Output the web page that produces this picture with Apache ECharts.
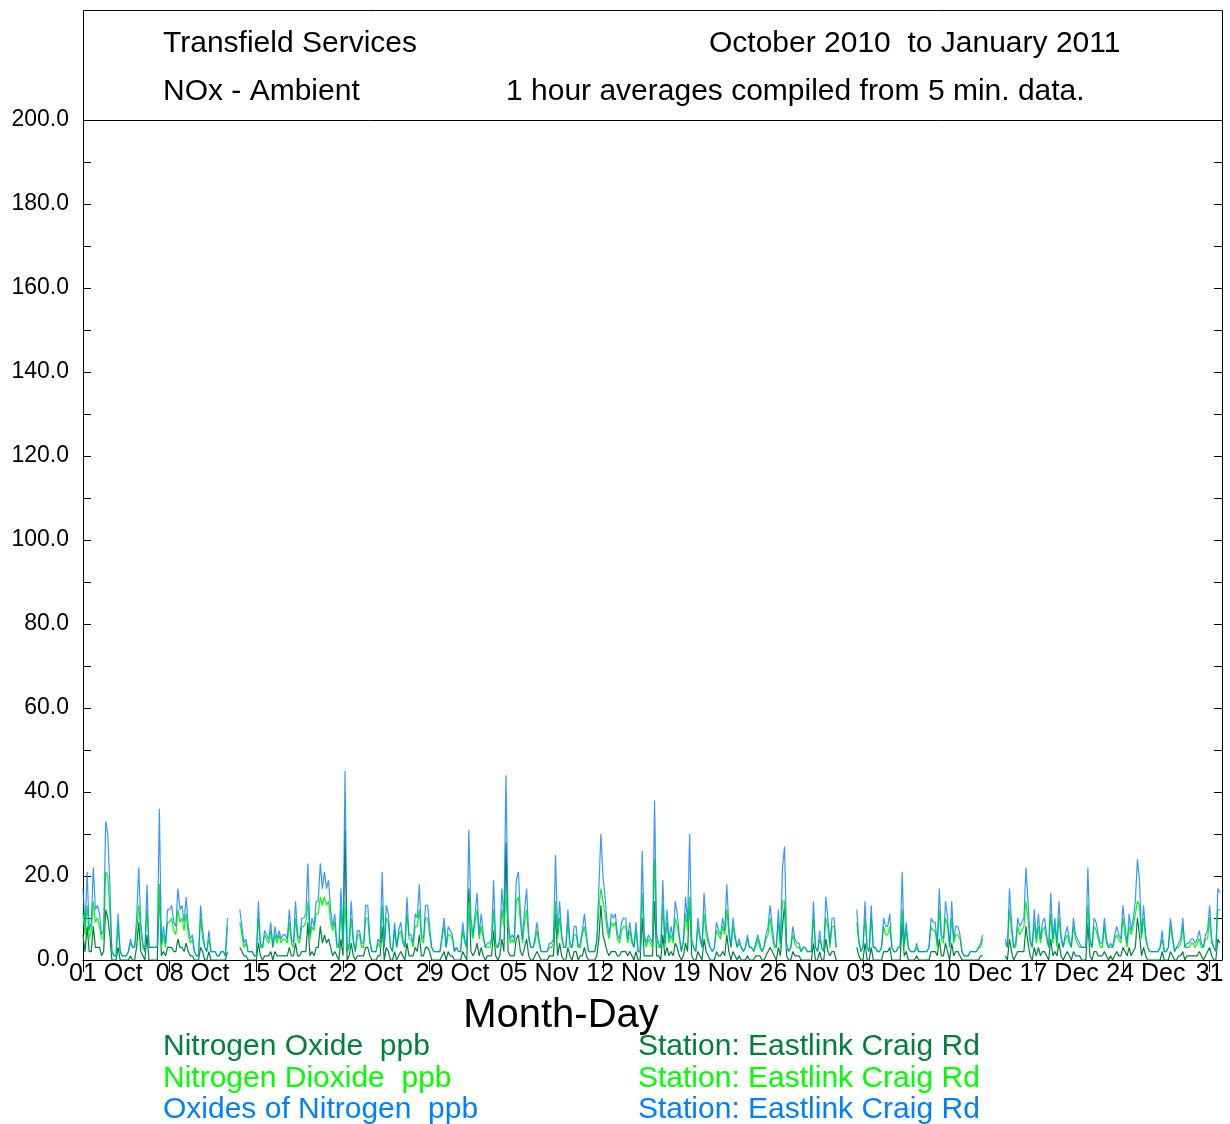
<!DOCTYPE html>
<html>
<head>
<meta charset="utf-8">
<script src="https://cdn.jsdelivr.net/npm/echarts@6/dist/echarts.min.js"></script>
<style>
  html, body { margin: 0; padding: 0; background: #ffffff; }
  #chart { width: 1230px; height: 1124px; }
</style>
</head>
<body>
<div id="chart"></div>
<script>
// Readings start 01 Oct 2010 00:00, one value every 4 hours (six per day, one row per day).
const stepHours = 4;
const tickLabels = ['01 Oct', '08 Oct', '15 Oct', '22 Oct', '29 Oct', '05 Nov', '12 Nov',
  '19 Nov', '26 Nov', '03 Dec', '10 Dec', '17 Dec', '24 Dec', '31'];

// Oxides of Nitrogen (NOx), ppb
const noxValues = [
  17, 8, 21, 7, 9, 22,
  12, 13, 11, 6, 7, 33,
  30, 18, 2, 1, 1, 11,
  2, 1, 1, 1, 2, 5,
  3, 3, 10, 22, 9, 4,
  2, 18, 3, 3, 3, 3,
  3, 36, 4, 8, 4, 12,
  12, 13, 9, 8, 17, 12,
  13, 9, 15, 8, 5, 6,
  2, 1, 1, 13, 7, 3,
  2, 7, 2, 2, 2, 1,
  1, 2, 2, 1, 10, null,
  null, null, null, null, 12, 8,
  4, 5, 2, 2, 2, 1,
  1, 14, 4, 3, 7, 6,
  5, 9, 3, 8, 5, 7,
  5, 6, 6, 5, 12, 5,
  4, 14, 6, 5, 10, 10,
  11, 23, 6, 10, 8, 14,
  14, 23, 17, 21, 17, 19,
  12, 8, 11, 4, 3, 17,
  4, 45, 2, 4, 14, 5,
  2, 7, 7, 4, 4, 13,
  13, 5, 2, 2, 2, 5,
  4, 21, 3, 13, 11, 3,
  2, 9, 3, 7, 9, 5,
  3, 15, 6, 6, 4, 11,
  10, 18, 6, 5, 13, 13,
  8, 3, 2, 2, 2, 2,
  6, 10, 3, 8, 7, 6,
  2, 3, 2, 2, 9, 5,
  3, 31, 10, 6, 11, 16,
  6, 11, 6, 3, 4, 4,
  5, 19, 4, 3, 5, 17,
  10, 44, 10, 5, 6, 5,
  19, 21, 11, 5, 12, 17,
  6, 3, 3, 5, 9, 5,
  2, 2, 2, 2, 4, 4,
  5, 25, 6, 14, 6, 3,
  3, 12, 4, 3, 8, 8,
  3, 4, 7, 11, 6, 2,
  2, 2, 2, 5, 17, 30,
  20, 15, 9, 6, 11, 10,
  11, 6, 5, 9, 10, 10,
  5, 9, 5, 3, 9, 2,
  2, 26, 6, 4, 6, 5,
  4, 38, 6, 4, 3, 19,
  4, 12, 5, 8, 5, 14,
  11, 6, 2, 5, 15, 9,
  30, 5, 3, 2, 10, 6,
  3, 16, 8, 5, 3, 2,
  3, 9, 7, 6, 10, 7,
  18, 8, 3, 10, 6, 3,
  5, 3, 2, 3, 6, 3,
  3, 2, 4, 6, 4, 2,
  3, 6, 8, 13, 8, 4,
  3, 12, 4, 22, 27, 4,
  2, 3, 8, 5, 4, 4,
  2, 3, 3, 2, 2, 2,
  14, 3, 2, 7, 3, 2,
  15, 10, 4, 10, 10, 3,
  null, null, null, null, null, null,
  null, null, null, 12, 5, 2,
  3, 14, 3, 2, 13, 3,
  3, 2, 2, 3, 10, 8,
  8, 11, 3, 2, 2, 3,
  3, 21, 4, 9, 3, 2,
  2, 2, 4, 2, 2, 2,
  2, 2, 3, 10, 9, 9,
  4, 17, 6, 5, 14, 10,
  3, 14, 5, 8, 8, 6,
  2, 1, 1, 1, 2, 2,
  2, 2, 3, 4, 6, null,
  null, null, null, null, null, null,
  null, null, null, 5, 3, 17,
  9, 3, 4, 10, 8, 9,
  10, 22, 14, 5, 3, 12,
  5, 11, 5, 9, 10, 6,
  3, 16, 5, 10, 4, 14,
  6, 3, 6, 8, 5, 3,
  10, 6, 5, 4, 3, 3,
  3, 22, 5, 3, 10, 9,
  6, 4, 4, 10, 5, 3,
  4, 3, 6, 8, 6, 5,
  13, 8, 4, 11, 7, 10,
  14, 24, 19, 6, 13, 6,
  3, 2, 2, 2, 2, 2,
  3, 7, 2, 2, 3, 10,
  6, 2, 3, 4, 5, 10,
  3, 4, 4, 5, 5, 4,
  5, 7, 4, 3, 6, 7,
  13, 5, 3, 2, 17, 16
];

// Nitrogen Dioxide (NO2), ppb
const no2Values = [
  11, 6, 13, 5, 7, 14,
  9, 10, 8, 5, 5, 21,
  20, 12, 2, 1, 1, 8,
  2, 1, 1, 1, 2, 4,
  3, 3, 7, 13, 7, 3,
  2, 12, 3, 3, 3, 3,
  3, 18, 3, 6, 3, 9,
  9, 10, 7, 6, 12, 9,
  10, 7, 11, 6, 4, 5,
  2, 1, 1, 10, 5, 3,
  2, 5, 2, 2, 2, 1,
  1, 2, 2, 1, 8, null,
  null, null, null, null, 9, 6,
  3, 4, 2, 2, 2, 1,
  1, 10, 3, 3, 6, 5,
  4, 7, 3, 6, 4, 6,
  4, 5, 5, 4, 9, 4,
  3, 10, 5, 4, 8, 8,
  9, 14, 5, 8, 7, 11,
  11, 15, 13, 15, 13, 14,
  9, 7, 9, 3, 3, 12,
  3, 14, 2, 3, 10, 4,
  2, 6, 6, 3, 3, 10,
  10, 4, 2, 2, 2, 4,
  3, 13, 3, 10, 9, 3,
  2, 7, 3, 6, 7, 4,
  3, 11, 5, 5, 3, 8,
  8, 12, 5, 4, 10, 10,
  6, 3, 2, 2, 2, 2,
  5, 8, 3, 6, 6, 5,
  2, 3, 2, 2, 7, 4,
  3, 14, 8, 5, 9, 12,
  5, 8, 5, 3, 3, 3,
  4, 12, 3, 3, 4, 12,
  8, 16, 8, 4, 5, 4,
  14, 15, 9, 4, 9, 12,
  5, 3, 3, 4, 7, 4,
  2, 2, 2, 2, 3, 3,
  4, 14, 5, 10, 5, 3,
  3, 9, 3, 3, 6, 6,
  3, 3, 6, 8, 5, 2,
  2, 2, 2, 4, 12, 17,
  14, 11, 7, 5, 9, 8,
  9, 5, 4, 7, 8, 8,
  4, 7, 4, 3, 7, 2,
  2, 16, 5, 3, 5, 4,
  3, 24, 5, 3, 3, 13,
  3, 9, 4, 6, 4, 10,
  8, 5, 2, 4, 11, 7,
  15, 4, 3, 2, 8, 5,
  3, 11, 6, 4, 3, 2,
  3, 7, 6, 5, 8, 6,
  12, 6, 3, 8, 5, 3,
  4, 3, 2, 3, 5, 3,
  3, 2, 3, 5, 3, 2,
  3, 5, 6, 10, 6, 3,
  3, 9, 3, 14, 14, 3,
  2, 3, 6, 4, 3, 3,
  2, 3, 3, 2, 2, 2,
  10, 3, 2, 5, 3, 2,
  10, 8, 3, 8, 8, 3,
  null, null, null, null, null, null,
  null, null, null, 9, 4, 2,
  3, 10, 3, 2, 10, 3,
  3, 2, 2, 3, 8, 6,
  6, 8, 3, 2, 2, 3,
  3, 12, 3, 7, 3, 2,
  2, 2, 3, 2, 2, 2,
  2, 2, 3, 8, 7, 7,
  3, 12, 5, 4, 10, 8,
  3, 10, 4, 6, 6, 5,
  2, 1, 1, 1, 2, 2,
  2, 2, 3, 3, 5, null,
  null, null, null, null, null, null,
  null, null, null, 4, 3, 12,
  7, 3, 3, 8, 6, 7,
  8, 14, 10, 4, 3, 9,
  4, 8, 4, 7, 8, 5,
  3, 11, 4, 8, 3, 10,
  5, 3, 5, 6, 4, 3,
  8, 5, 4, 3, 3, 3,
  3, 13, 4, 3, 8, 7,
  5, 3, 3, 8, 4, 3,
  3, 3, 5, 6, 5, 4,
  10, 6, 3, 8, 6, 8,
  11, 14, 13, 5, 10, 5,
  3, 2, 2, 2, 2, 2,
  3, 5, 2, 2, 3, 8,
  5, 2, 3, 3, 4, 8,
  3, 3, 3, 4, 4, 3,
  4, 5, 3, 3, 5, 5,
  10, 4, 3, 2, 12, 12
];

// Nitrogen Oxide (NO), ppb
const noValues = [
  6, 2, 8, 2, 2, 8,
  3, 3, 3, 1, 2, 12,
  10, 6, 0, 0, 0, 3,
  0, 0, 0, 0, 0, 1,
  0, 0, 3, 9, 2, 1,
  0, 6, 0, 0, 0, 0,
  0, 18, 1, 2, 1, 3,
  3, 3, 2, 2, 5, 3,
  3, 2, 4, 2, 1, 1,
  0, 0, 0, 3, 2, 0,
  0, 2, 0, 0, 0, 0,
  0, 0, 0, 0, 2, null,
  null, null, null, null, 3, 2,
  1, 1, 0, 0, 0, 0,
  0, 4, 1, 0, 1, 1,
  1, 2, 0, 2, 1, 1,
  1, 1, 1, 1, 3, 1,
  1, 4, 1, 1, 2, 2,
  2, 9, 1, 2, 1, 3,
  3, 8, 4, 6, 4, 5,
  3, 1, 2, 1, 0, 5,
  1, 31, 0, 1, 4, 1,
  0, 1, 1, 1, 1, 3,
  3, 1, 0, 0, 0, 1,
  1, 8, 0, 3, 2, 0,
  0, 2, 0, 1, 2, 1,
  0, 4, 1, 1, 1, 3,
  2, 6, 1, 1, 3, 3,
  2, 0, 0, 0, 0, 0,
  1, 2, 0, 2, 1, 1,
  0, 0, 0, 0, 2, 1,
  0, 17, 2, 1, 2, 4,
  1, 3, 1, 0, 1, 1,
  1, 7, 1, 0, 1, 5,
  2, 28, 2, 1, 1, 1,
  5, 6, 2, 1, 3, 5,
  1, 0, 0, 1, 2, 1,
  0, 0, 0, 0, 1, 1,
  1, 11, 1, 4, 1, 0,
  0, 3, 1, 0, 2, 2,
  0, 1, 1, 3, 1, 0,
  0, 0, 0, 1, 5, 13,
  6, 4, 2, 1, 2, 2,
  2, 1, 1, 2, 2, 2,
  1, 2, 1, 0, 2, 0,
  0, 10, 1, 1, 1, 1,
  1, 14, 1, 1, 0, 6,
  1, 3, 1, 2, 1, 4,
  3, 1, 0, 1, 4, 2,
  15, 1, 0, 0, 2, 1,
  0, 5, 2, 1, 0, 0,
  0, 2, 1, 1, 2, 1,
  6, 2, 0, 2, 1, 0,
  1, 0, 0, 0, 1, 0,
  0, 0, 1, 1, 1, 0,
  0, 1, 2, 3, 2, 1,
  0, 3, 1, 8, 13, 1,
  0, 0, 2, 1, 1, 1,
  0, 0, 0, 0, 0, 0,
  4, 0, 0, 2, 0, 0,
  5, 2, 1, 2, 2, 0,
  null, null, null, null, null, null,
  null, null, null, 3, 1, 0,
  0, 4, 0, 0, 3, 0,
  0, 0, 0, 0, 2, 2,
  2, 3, 0, 0, 0, 0,
  0, 9, 1, 2, 0, 0,
  0, 0, 1, 0, 0, 0,
  0, 0, 0, 2, 2, 2,
  1, 5, 1, 1, 4, 2,
  0, 4, 1, 2, 2, 1,
  0, 0, 0, 0, 0, 0,
  0, 0, 0, 1, 1, null,
  null, null, null, null, null, null,
  null, null, null, 1, 0, 5,
  2, 0, 1, 2, 2, 2,
  2, 8, 4, 1, 0, 3,
  1, 3, 1, 2, 2, 1,
  0, 5, 1, 2, 1, 4,
  1, 0, 1, 2, 1, 0,
  2, 1, 1, 1, 0, 0,
  0, 9, 1, 0, 2, 2,
  1, 1, 1, 2, 1, 0,
  1, 0, 1, 2, 1, 1,
  3, 2, 1, 3, 1, 2,
  3, 10, 6, 1, 3, 1,
  0, 0, 0, 0, 0, 0,
  0, 2, 0, 0, 0, 2,
  1, 0, 0, 1, 1, 2,
  0, 1, 1, 1, 1, 1,
  1, 2, 1, 0, 1, 2,
  3, 1, 0, 0, 5, 4
];

const seriesColors = { no: '#00803f', no2: '#00ff00', nox: '#0080ff' };
const FONT = '"Liberation Sans", Arial, Helvetica, sans-serif';
const weekHours = 168;
const tickHours = tickLabels.map((_, i) => i * weekHours);
const spanHours = 92 * 24;
const xLabelSize = 25;
// Each "DD Mon" label is drawn with its day number over the tick, so its centre sits
// about 0.92 em to the right of the tick; the bare "31" at the end stays centred on it.
const plotWidthPx = 1139;
const labelShiftHours = 0.917 * xLabelSize * spanHours / plotWidthPx;
const labelHours = tickHours.map((h, i) => i === tickLabels.length - 1 ? h : h + labelShiftHours);

function toPoints(values) {
  return values.map((v, i) => [i * stepHours, v == null ? '-' : v]);
}

function label(text, x, y, size, color, align) {
  return {
    type: 'text', x: x, y: y, silent: true,
    style: {
      text: text, fill: color, font: size + 'px ' + FONT,
      align: align || 'left', verticalAlign: 'middle',
      textAlign: align || 'left', textVerticalAlign: 'middle'
    }
  };
}

const chart = echarts.init(document.getElementById('chart'), null, { renderer: 'canvas' });

const valueAxisBase = {
  type: 'value', min: 0, max: 200, interval: 10,
  splitLine: { show: false },
  axisLine: { show: true, lineStyle: { color: '#000', width: 1 } },
  axisTick: { show: true, inside: true, length: 8, lineStyle: { color: '#000', width: 1 } }
};

function lineSeries(name, values, color, z, opacity) {
  return {
    name: name, type: 'line', data: toPoints(values),
    showSymbol: false, connectNulls: false, z: z,
    lineStyle: { color: color, width: 1.2, opacity: opacity },
    itemStyle: { color: color }
  };
}

chart.setOption({
  animation: false,
  backgroundColor: '#ffffff',
  grid: { left: 83, right: 8, top: 120, bottom: 164, containLabel: false },
  xAxis: {
    type: 'value', min: 0, max: spanHours,
    splitLine: { show: false },
    axisLine: { show: true, onZero: false, lineStyle: { color: '#000', width: 1 } },
    axisTick: { show: true, length: 12, customValues: tickHours, lineStyle: { color: '#000', width: 1 } },
    axisLabel: {
      customValues: labelHours, hideOverlap: false,
      margin: 2, color: '#000', fontFamily: FONT, fontSize: xLabelSize,
      formatter: function (v) {
        return tickLabels[Math.floor(v / weekHours + 1e-6)] || '';
      }
    }
  },
  yAxis: [
    Object.assign({}, valueAxisBase, {
      position: 'left',
      axisLabel: {
        margin: 14, color: '#000', fontFamily: FONT, fontSize: 23,
        formatter: function (v) { return v % 20 === 0 ? v.toFixed(1) : ''; }
      }
    }),
    Object.assign({}, valueAxisBase, {
      position: 'right',
      axisLabel: { show: false }
    })
  ],
  graphic: [
    {
      type: 'rect', silent: true,
      shape: { x: 83.5, y: 10.5, width: 1139, height: 110 },
      style: { fill: 'none', stroke: '#000', lineWidth: 1 }
    },
    label('Transfield Services', 163, 44, 30, '#000'),
    label('NOx - Ambient', 163, 92, 30, '#000'),
    label('October 2010  to January 2011', 709, 44, 30, '#000'),
    label('1 hour averages compiled from 5 min. data.', 506, 92, 30, '#000'),
    label('Month-Day', 561, 1016, 40, '#000', 'center'),
    label('Nitrogen Oxide  ppb', 163, 1047, 30, seriesColors.no),
    label('Nitrogen Dioxide  ppb', 163, 1079, 30, seriesColors.no2),
    label('Oxides of Nitrogen  ppb', 163, 1110, 30, seriesColors.nox),
    label('Station: Eastlink Craig Rd', 638, 1047, 30, seriesColors.no),
    label('Station: Eastlink Craig Rd', 638, 1079, 30, seriesColors.no2),
    label('Station: Eastlink Craig Rd', 638, 1110, 30, seriesColors.nox)
  ],
  series: [
    lineSeries('Nitrogen Oxide', noValues, seriesColors.no, 2, 1),
    lineSeries('Nitrogen Dioxide', no2Values, seriesColors.no2, 3, 1),
    lineSeries('Oxides of Nitrogen', noxValues, seriesColors.nox, 4, 0.8)
  ]
});
</script>
</body>
</html>
